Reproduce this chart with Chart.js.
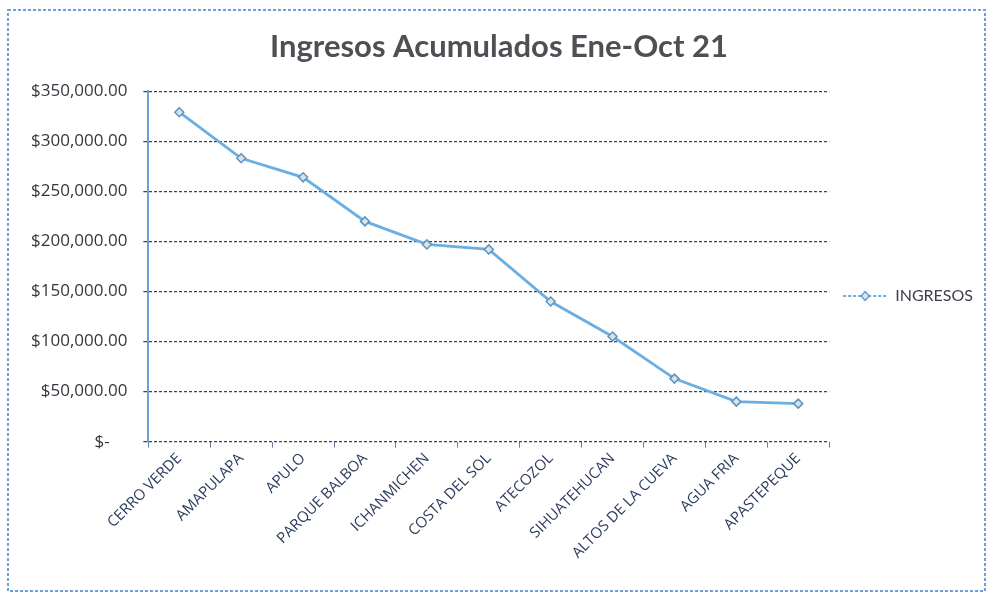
<!DOCTYPE html>
<html>
<head>
<meta charset="utf-8">
<script src="https://cdn.jsdelivr.net/npm/chart.js@4"></script>
<style>
  html, body { margin: 0; padding: 0; background: #fff; }
  #wrap { width: 989px; height: 596px; }
</style>
</head>
<body>
<div id="wrap"><canvas id="ingresos_chart" width="989" height="596"></canvas></div>
<script>
const sitios = ['CERRO VERDE', 'AMAPULAPA', 'APULO', 'PARQUE BALBOA', 'ICHANMICHEN', 'COSTA DEL SOL',
    'ATECOZOL', 'SIHUATEHUCAN', 'ALTOS DE LA CUEVA', 'AGUA FRIA', 'APASTEPEQUE'];
const ingresos = [329000, 283000, 264000, 220000, 197000, 192000, 140000, 105000, 63000, 40000, 38000];
const yTicks = [0, 50000, 100000, 150000, 200000, 250000, 300000, 350000];

// marco punteado azul alrededor de todo, como en la hoja escaneada
const marco = {
    id: 'marco',
    beforeDraw(chart) {
        const c = chart.ctx;
        c.save();
        c.fillStyle = '#ffffff';
        c.fillRect(0, 0, chart.width, chart.height);
        c.strokeStyle = '#6f9fd8';
        c.lineWidth = 2;
        c.setLineDash([3, 2]);
        c.strokeRect(8, 10, chart.width - 12, chart.height - 15);
        c.restore();
    }
};

// simbolo de la leyenda: linea con rombo al centro
const simbolo = document.createElement('canvas');
simbolo.width = 44;
simbolo.height = 12;
(function () {
    const s = simbolo.getContext('2d');
    s.strokeStyle = '#6aaee2';
    s.lineWidth = 2;
    s.setLineDash([3, 2]);
    s.beginPath();
    s.moveTo(0, 6);
    s.lineTo(44, 6);
    s.stroke();
    s.setLineDash([]);
    s.fillStyle = '#dfe9ef';
    s.strokeStyle = '#5b94c4';
    s.lineWidth = 1.3;
    s.beginPath();
    s.moveTo(22, 1.5); s.lineTo(26, 6); s.lineTo(22, 10.5); s.lineTo(18, 6); s.closePath();
    s.fill();
    s.stroke();
})();

const ctx = document.getElementById('ingresos_chart').getContext('2d');
const chart = new Chart(ctx, {
    type: 'line',
    data: {
        labels: sitios,
        datasets: [{
            label: 'INGRESOS',
            data: ingresos,
            borderColor: '#6aaee2',
            backgroundColor: '#e8f1f8',
            borderWidth: 2.8,
            pointStyle: 'rectRot',
            pointRadius: 4.5,
            pointBorderColor: '#5b94c4',
            pointBackgroundColor: '#d8e3e3',
            pointBorderWidth: 1.5,
            tension: 0
        }]
    },
    options: {
        responsive: false,
        animation: false,
        layout: { padding: { left: 15, right: 6, top: 28, bottom: 32 } },
        plugins: {
            title: {
                display: true,
                text: 'Ingresos Acumulados Ene-Oct 21',
                color: '#4f4f55',
                font: { family: 'Lato', size: 31, weight: 'bold' },
                padding: { top: 0, bottom: 26 }
            },
            legend: {
                display: true,
                position: 'right',
                labels: {
                    usePointStyle: true,
                    pointStyle: simbolo,
                    pointStyleWidth: 44,
                    color: '#3b3f4a',
                    font: { family: 'Lato', size: 16 },
                    padding: 14
                }
            },
            tooltip: { enabled: false }
        },
        scales: {
            x: {
                offset: true,
                grid: {
                    offset: true,
                    drawOnChartArea: false,
                    drawTicks: true,
                    tickLength: 6,
                    color: '#6a7f9c'
                },
                border: { display: false },
                ticks: {
                    color: '#2c3d5e',
                    font: { family: 'Open Sans', size: 15 },
                    minRotation: 45,
                    maxRotation: 45,
                    autoSkip: false,
                    padding: 2
                }
            },
            y: {
                min: 0,
                max: 350000,
                afterBuildTicks(axis) {
                    axis.ticks = yTicks.map(v => ({ value: v }));
                },
                grid: {
                    color: '#3f434c',
                    lineWidth: 1.3,
                    tickLength: 5
                },
                border: { color: '#6f9fd8', width: 2, dash: [3, 2] },
                ticks: {
                    color: '#35373e',
                    font: { family: 'Open Sans', size: 17 },
                    padding: 16,
                    callback: v => v === 0 ? '$-    ' :
                        '$' + v.toLocaleString('en-US', { minimumFractionDigits: 2, maximumFractionDigits: 2 })
                }
            }
        }
    },
    plugins: [marco]
});
</script>
</body>
</html>
